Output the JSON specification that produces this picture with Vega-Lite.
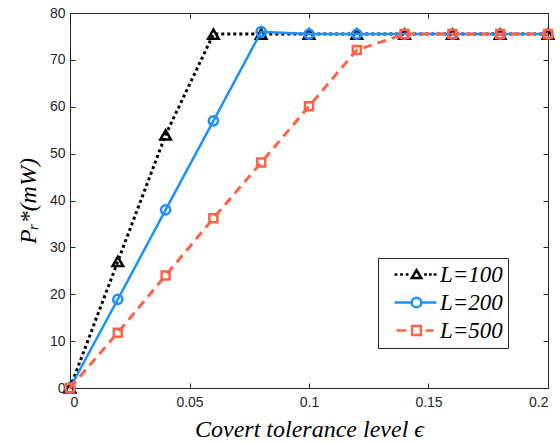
{
  "$schema": "https://vega.github.io/schema/vega-lite/v6.json",
  "width": 478,
  "height": 375,
  "autosize": {"type": "none"},
  "padding": {"left": 70, "top": 13, "right": 12, "bottom": 54},
  "background": "white",
  "config": {
    "view": {"stroke": "#262626", "strokeWidth": 1},
    "axis": {
      "grid": false,
      "labelFont": "Liberation Sans",
      "labelFontSize": 14,
      "labelColor": "#262626",
      "tickColor": "#262626",
      "domainColor": "#262626",
      "titleFont": "Liberation Serif",
      "titleFontStyle": "italic",
      "titleFontWeight": "normal",
      "titleFontSize": 24,
      "titleColor": "#000000"
    }
  },
  "data": {
    "values": [
      {"L": "L=100", "x": 0, "P": 0},
      {"L": "L=100", "x": 0.02, "P": 27},
      {"L": "L=100", "x": 0.04, "P": 54},
      {"L": "L=100", "x": 0.06, "P": 75.5},
      {"L": "L=100", "x": 0.08, "P": 75.5},
      {"L": "L=100", "x": 0.10, "P": 75.5},
      {"L": "L=100", "x": 0.12, "P": 75.5},
      {"L": "L=100", "x": 0.14, "P": 75.5},
      {"L": "L=100", "x": 0.16, "P": 75.5},
      {"L": "L=100", "x": 0.18, "P": 75.5},
      {"L": "L=100", "x": 0.20, "P": 75.5},
      {"L": "L=200", "x": 0, "P": 0},
      {"L": "L=200", "x": 0.02, "P": 18.9},
      {"L": "L=200", "x": 0.04, "P": 38},
      {"L": "L=200", "x": 0.06, "P": 57},
      {"L": "L=200", "x": 0.08, "P": 76},
      {"L": "L=200", "x": 0.10, "P": 75.5},
      {"L": "L=200", "x": 0.12, "P": 75.5},
      {"L": "L=200", "x": 0.14, "P": 75.5},
      {"L": "L=200", "x": 0.16, "P": 75.5},
      {"L": "L=200", "x": 0.18, "P": 75.5},
      {"L": "L=200", "x": 0.20, "P": 75.5},
      {"L": "L=500", "x": 0, "P": 0},
      {"L": "L=500", "x": 0.02, "P": 11.8},
      {"L": "L=500", "x": 0.04, "P": 24},
      {"L": "L=500", "x": 0.06, "P": 36.2},
      {"L": "L=500", "x": 0.08, "P": 48.1},
      {"L": "L=500", "x": 0.10, "P": 60.1},
      {"L": "L=500", "x": 0.12, "P": 72.1},
      {"L": "L=500", "x": 0.14, "P": 75.5},
      {"L": "L=500", "x": 0.16, "P": 75.5},
      {"L": "L=500", "x": 0.18, "P": 75.5},
      {"L": "L=500", "x": 0.20, "P": 75.5}
    ]
  },
  "layer": [
    {
      "layer": [
        {
          "transform": [{"filter": "datum.L == 'L=100'"}],
          "mark": {"type": "line", "strokeWidth": 3, "strokeDash": [3, 3], "point": {"shape": "triangle-up", "filled": false, "size": 110, "strokeWidth": 2.5}},
          "encoding": {
            "x": {"field": "x", "type": "quantitative", "scale": {"domain": [0, 0.2]},
              "axis": {"orient": "bottom", "values": [0, 0.05, 0.1, 0.15, 0.2], "format": "~g", "tickSize": -5, "labelPadding": 12, "title": "Covert tolerance level ϵ", "titlePadding": 8}},
            "y": {"field": "P", "type": "quantitative", "scale": {"domain": [0, 80]},
              "axis": {"orient": "left", "values": [0, 10, 20, 30, 40, 50, 60, 70, 80], "tickSize": -5, "labelPadding": 10, "title": "Pᵣ*(mW)", "titlePadding": 9}},
            "color": {"field": "L", "type": "nominal"}
          }
        },
        {
          "transform": [{"filter": "datum.L == 'L=200'"}],
          "mark": {"type": "line", "strokeWidth": 2.5, "point": {"shape": "circle", "filled": false, "size": 86, "strokeWidth": 2.5}},
          "encoding": {
            "x": {"field": "x", "type": "quantitative"},
            "y": {"field": "P", "type": "quantitative"},
            "color": {"field": "L", "type": "nominal"}
          }
        },
        {
          "transform": [{"filter": "datum.L == 'L=500'"}],
          "mark": {"type": "line", "strokeWidth": 3, "strokeDash": [9, 6], "point": {"shape": "square", "filled": false, "size": 64, "strokeWidth": 2.5}},
          "encoding": {
            "x": {"field": "x", "type": "quantitative"},
            "y": {"field": "P", "type": "quantitative"},
            "color": {"field": "L", "type": "nominal"}
          }
        }
      ]
    },
    {
      "transform": [{"filter": "datum.x < 0"}],
      "mark": {"type": "point", "filled": false},
      "encoding": {
        "x": {"field": "x", "type": "quantitative", "scale": {"domain": [0, 0.2]},
          "axis": {"orient": "top", "values": [0, 0.05, 0.1, 0.15, 0.2], "labels": false, "domain": false, "tickSize": -5, "title": null}},
        "y": {"field": "P", "type": "quantitative", "scale": {"domain": [0, 80]},
          "axis": {"orient": "right", "values": [0, 10, 20, 30, 40, 50, 60, 70, 80], "labels": false, "domain": false, "tickSize": -5, "title": null}},
        "color": {"field": "L", "type": "nominal",
          "scale": {"domain": ["L=100", "L=200", "L=500"], "range": ["#000000", "#1E90FF", "#FF6347"]},
          "legend": {"title": null, "orient": "none", "legendX": 308, "legendY": 245, "padding": 5, "strokeColor": "#262626", "fillColor": "white", "labelFont": "Liberation Serif", "labelFontStyle": "italic", "labelFontSize": 23, "labelColor": "#000000", "symbolSize": 64, "symbolStrokeWidth": 2.5, "labelOffset": 34, "rowPadding": 4}},
        "shape": {"field": "L", "type": "nominal",
          "scale": {"domain": ["L=100", "L=200", "L=500"], "range": [
            "M0,0h0.7M1.4,0h0.7M2.8,0h0.7M4.3,0.9L5.5,-1.1L6.7,0.9ZM7.4,0h0.7M8.6,0h0.7M9.8,0h0.7",
            "M0,0H4.3M6.7,0H10.5M6.7,0A1.2,1.2,0,1,1,4.3,0A1.2,1.2,0,1,1,6.7,0",
            "M0.5,0H3M4.4,-1.1H6.6V1.1H4.4ZM7.8,0H9.8"
          ]},
          "legend": {"title": null, "orient": "none", "legendX": 308, "legendY": 245, "padding": 5, "strokeColor": "#262626", "fillColor": "white", "labelFont": "Liberation Serif", "labelFontStyle": "italic", "labelFontSize": 23, "labelColor": "#000000", "symbolSize": 64, "symbolStrokeWidth": 2.5, "labelOffset": 34, "rowPadding": 4}}
      }
    }
  ],
  "resolve": {"axis": {"x": "independent", "y": "independent"}}
}
